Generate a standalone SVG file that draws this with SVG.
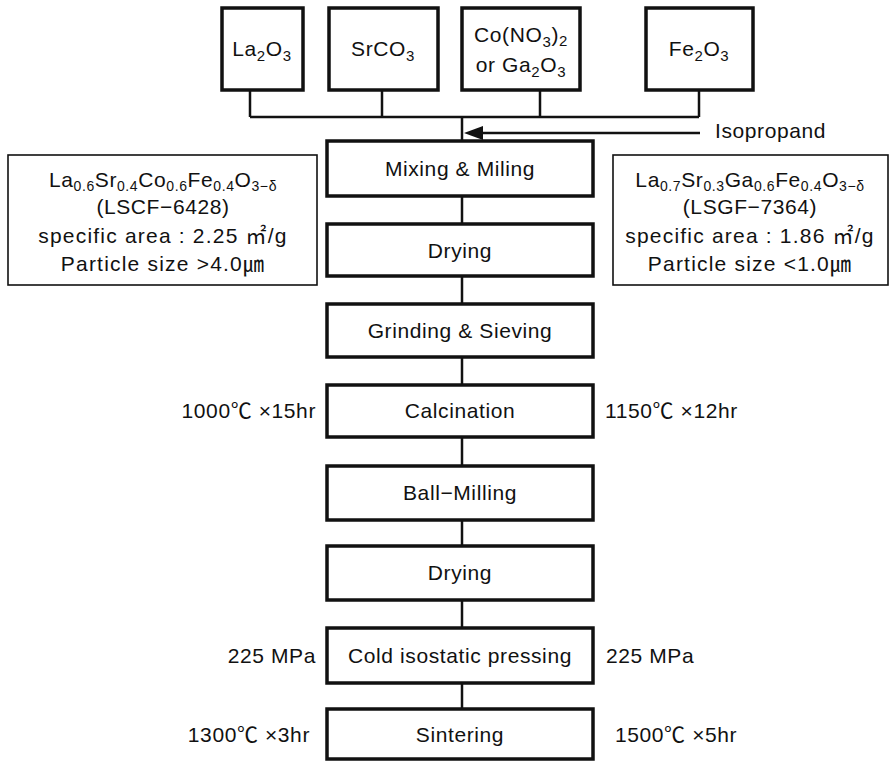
<svg xmlns="http://www.w3.org/2000/svg" width="895" height="761" viewBox="0 0 895 761">
<defs>
<style>
text{font-family:"Liberation Sans","Noto Sans CJK KR",sans-serif;font-size:21px;fill:#111;letter-spacing:0.6px}
.c{text-anchor:middle}
.e{text-anchor:end}
.w{letter-spacing:1.2px}
.b{fill:#fff;stroke:#111;stroke-width:3.5}
.s{fill:#fff;stroke:#111;stroke-width:1.6}
.ln{fill:none;stroke:#111;stroke-width:2.5}
.sub{font-size:15px}
.sm{font-size:14px}
</style>
</defs>
<rect width="895" height="761" fill="#fff"/>
<g id="connectors">
<path class="ln" d="M250,90 V117 M382,90 V117 M540,90 V117 M699,90 V117 M250,117 H699"/>
<path class="ln" d="M462,117 V141 M462,196 V224 M462,276 V304 M462,357 V385 M462,437 V466 M462,520 V546 M462,600 V628 M462,683 V709"/>
<line x1="700" y1="133" x2="483" y2="133" class="ln"/>
<path d="M464,133 L483,126 L483,140 Z" fill="#111"/>
</g>
<g id="la2o3"><rect class="b" x="222" y="8" width="81" height="82"/><text class="c" x="262" y="56">La<tspan class="sub" dy="5">2</tspan><tspan dy="-5">O</tspan><tspan class="sub" dy="5">3</tspan></text></g>
<g id="srco3"><rect class="b" x="329" y="8" width="109" height="82"/><text class="c" x="383" y="56">SrCO<tspan class="sub" dy="5">3</tspan></text></g>
<g id="cono3"><rect class="b" x="462" y="8" width="118" height="82"/><text class="c" x="521" y="42">Co(NO<tspan class="sub" dy="5">3</tspan><tspan dy="-5">)</tspan><tspan class="sub" dy="4">2</tspan></text><text class="c" x="521" y="72">or Ga<tspan class="sub" dy="5">2</tspan><tspan dy="-5">O</tspan><tspan class="sub" dy="5">3</tspan></text></g>
<g id="fe2o3"><rect class="b" x="646" y="8" width="107" height="82"/><text class="c" x="699" y="56">Fe<tspan class="sub" dy="5">2</tspan><tspan dy="-5">O</tspan><tspan class="sub" dy="5">3</tspan></text></g>
<g id="isopropand"><text x="715" y="138">Isopropand</text></g>
<g id="lscf"><rect class="s" x="8" y="155" width="309" height="130"/>
<text class="c" x="163" y="187">La<tspan class="sm" dy="4">0.6</tspan><tspan dy="-4">Sr</tspan><tspan class="sm" dy="4">0.4</tspan><tspan dy="-4">Co</tspan><tspan class="sm" dy="4">0.6</tspan><tspan dy="-4">Fe</tspan><tspan class="sm" dy="4">0.4</tspan><tspan dy="-4">O</tspan><tspan class="sm" dy="4">3−δ</tspan></text>
<text class="c" x="163" y="214">(LSCF−6428)</text>
<text class="c w" x="163" y="243">specific area : 2.25  ㎡/g</text>
<text class="c w" x="163" y="271">Particle size &gt;4.0㎛</text></g>
<g id="lsgf"><rect class="s" x="613" y="155" width="275" height="130"/>
<text class="c" x="750" y="187">La<tspan class="sm" dy="4">0.7</tspan><tspan dy="-4">Sr</tspan><tspan class="sm" dy="4">0.3</tspan><tspan dy="-4">Ga</tspan><tspan class="sm" dy="4">0.6</tspan><tspan dy="-4">Fe</tspan><tspan class="sm" dy="4">0.4</tspan><tspan dy="-4">O</tspan><tspan class="sm" dy="4">3−δ</tspan></text>
<text class="c" x="750" y="214">(LSGF−7364)</text>
<text class="c w" x="750" y="243">specific area : 1.86  ㎡/g</text>
<text class="c w" x="750" y="271">Particle size &lt;1.0㎛</text></g>
<g id="mixing"><rect class="b" x="327" y="141" width="266" height="55"/><text class="c" x="460" y="176">Mixing &amp; Miling</text></g>
<g id="drying1"><rect class="b" x="327" y="224" width="266" height="52"/><text class="c" x="460" y="258">Drying</text></g>
<g id="grinding"><rect class="b" x="327" y="304" width="266" height="53"/><text class="c" x="460" y="338">Grinding &amp; Sieving</text></g>
<g id="calcination"><rect class="b" x="327" y="385" width="266" height="52"/><text class="c" x="460" y="418">Calcination</text>
<text class="e" x="316" y="418">1000℃  ×15hr</text><text x="605" y="418">1150℃  ×12hr</text></g>
<g id="ballmilling"><rect class="b" x="327" y="466" width="266" height="54"/><text class="c" x="460" y="500">Ball−Milling</text></g>
<g id="drying2"><rect class="b" x="327" y="546" width="266" height="54"/><text class="c" x="460" y="580">Drying</text></g>
<g id="cip"><rect class="b" x="327" y="628" width="266" height="55"/><text class="c" x="460" y="663">Cold isostatic pressing</text>
<text class="e" x="316" y="663">225 MPa</text><text x="606" y="663">225 MPa</text></g>
<g id="sintering"><rect class="b" x="327" y="709" width="266" height="50"/><text class="c" x="460" y="742">Sintering</text>
<text class="e" x="310" y="742">1300℃  ×3hr</text><text x="615" y="742">1500℃  ×5hr</text></g>
</svg>
